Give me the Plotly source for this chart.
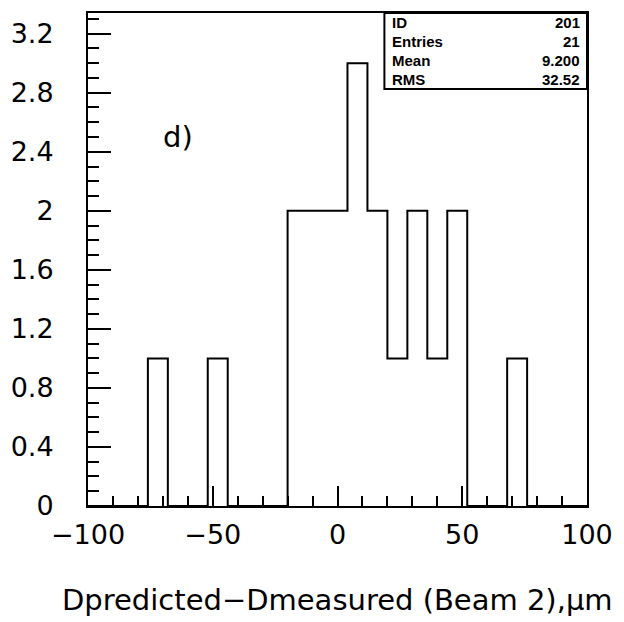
import numpy as np
import plotly.graph_objects as go

# ---- data ----
bin_low = -100.0
bin_width = 8.0
counts = [0, 0, 0, 1, 0, 0, 1, 0, 0, 0,
          2, 2, 2, 3, 2, 1, 2, 1, 2, 0,
          0, 1, 0, 0, 0]
stats_labels = ["ID", "Entries", "Mean", "RMS"]
stats_values = ["201", "21", "9.200", "32.52"]
y_ticks = [0, 0.4, 0.8, 1.2, 1.6, 2, 2.4, 2.8, 3.2]
y_ticktext = ["0", "0.4", "0.8", "1.2", "1.6", "2", "2.4", "2.8", "3.2"]
x_ticks = [-100, -50, 0, 50, 100]
x_ticktext = ["\u2212100", "\u221250", "0", "50", "100"]
panel_label = "d)"
x_title = "Dpredicted\u2212Dmeasured (Beam 2),\u03bcm"

edges = bin_low + bin_width * np.arange(len(counts) + 1)
step_y = list(counts) + [counts[-1]]

FONT = "DejaVu Sans"

fig = go.Figure()
fig.add_trace(go.Scatter(
    x=edges, y=step_y, mode="lines", line_shape="hv",
    line=dict(color="black", width=2), showlegend=False, hoverinfo="skip"))

fig.update_xaxes(
    range=[-100, 100], tickvals=x_ticks, ticktext=x_ticktext,
    ticks="inside", ticklen=20, tickwidth=2, tickcolor="black",
    minor=dict(ticks="inside", ticklen=10, tickwidth=2, tickcolor="black", dtick=10, tick0=0),
    showline=True, linecolor="black", linewidth=2, mirror=True,
    showgrid=False, zeroline=False,
    tickfont=dict(family=FONT, size=27, color="black"),
    ticklabelstandoff=4)
fig.update_yaxes(
    range=[0, 3.34], tickvals=y_ticks, ticktext=y_ticktext,
    ticks="inside", ticklen=23, tickwidth=2, tickcolor="black",
    minor=dict(ticks="inside", ticklen=11, tickwidth=2, tickcolor="black", dtick=0.1, tick0=0),
    showline=True, linecolor="black", linewidth=2, mirror=True,
    showgrid=False, zeroline=False,
    tickfont=dict(family=FONT, size=27, color="black"),
    ticklabelstandoff=27)

# stats box
box_x0 = 0.594
box_y0 = 0.846
fig.add_shape(type="rect", xref="paper", yref="paper",
              x0=box_x0, x1=1, y0=box_y0, y1=1,
              line=dict(color="black", width=2), fillcolor="white", layer="above")
n = len(stats_labels)
for i, (lab, val) in enumerate(zip(stats_labels, stats_values)):
    yy = 1 - (1 - box_y0) * (i + 0.5) / n
    fig.add_annotation(xref="paper", yref="paper", x=box_x0 + 0.012, y=yy,
                       text=f"<b>{lab}</b>", showarrow=False, xanchor="left", yanchor="middle",
                       font=dict(family="Liberation Sans", size=15, color="black"))
    fig.add_annotation(xref="paper", yref="paper", x=0.99, y=yy,
                       text=f"<b>{val}</b>", showarrow=False, xanchor="right", yanchor="middle",
                       font=dict(family="Liberation Sans", size=15, color="black"))

fig.add_annotation(x=-64, y=2.5, xref="x", yref="y", text=panel_label, showarrow=False,
                   font=dict(family=FONT, size=29, color="black"))
fig.add_annotation(xref="paper", yref="paper", x=0.5, y=-0.19, text=x_title,
                   showarrow=False, xanchor="center", yanchor="middle",
                   font=dict(family=FONT, size=29, color="black"))

fig.update_layout(
    width=624, height=622,
    margin=dict(l=87, r=37, t=11, b=116),
    paper_bgcolor="white", plot_bgcolor="white",
    showlegend=False)

fig.write_html("out.html")
